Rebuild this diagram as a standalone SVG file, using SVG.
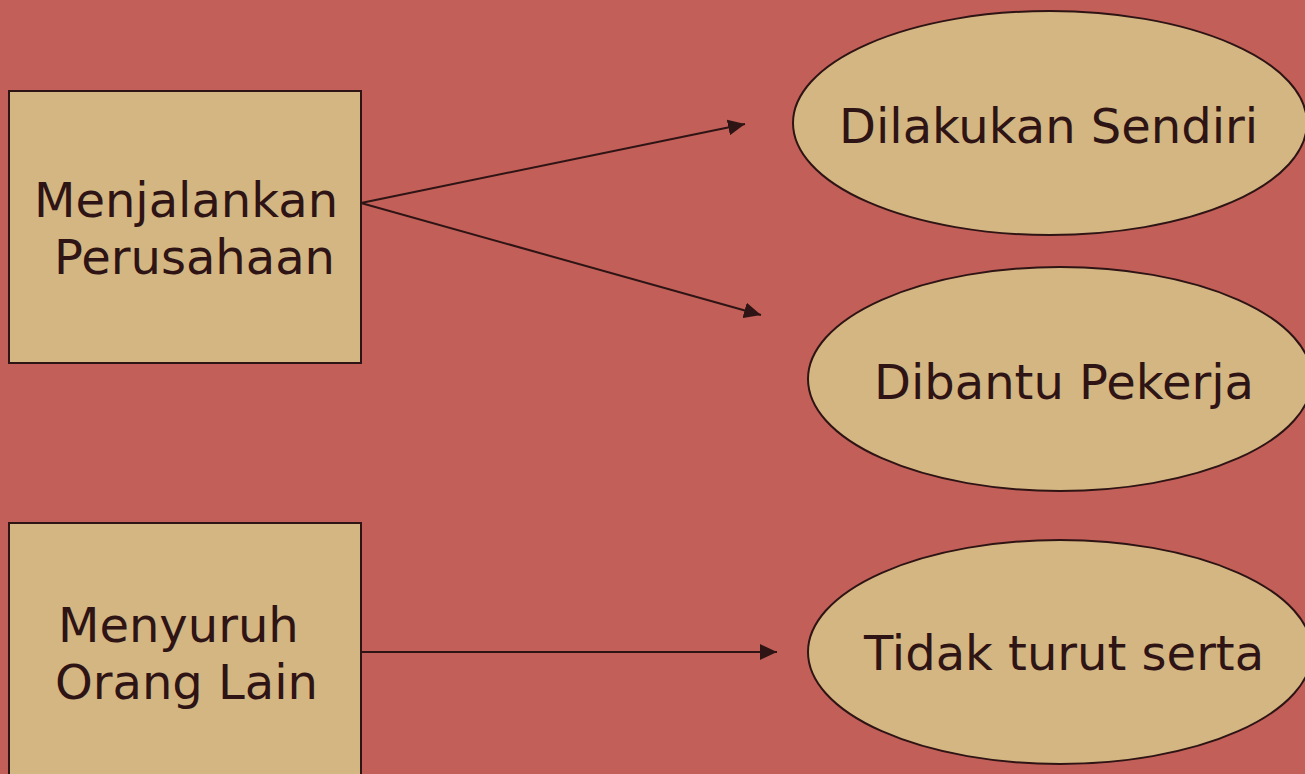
<svg xmlns="http://www.w3.org/2000/svg" width="1305" height="774" viewBox="0 0 1305 774">
<style>
.box{fill:#D4B682;stroke:#2E1414;stroke-width:2}
.lbl{font-family:"DejaVu Sans",Verdana,sans-serif;font-size:48px;fill:#2E1414}
.con{stroke:#2E1414;stroke-width:2;fill:none;marker-end:url(#ah)}
</style>
<defs>
<marker id="ah" markerUnits="userSpaceOnUse" markerWidth="18" markerHeight="16" refX="17" refY="8" orient="auto">
<path d="M0,0 L17,8 L0,16 z" fill="#2E1414"/>
</marker>
</defs>
<rect width="1305" height="774" fill="#C25F58"/>
<g id="n1"><rect class="box" x="9" y="91" width="352" height="272"/>
<text class="lbl" x="34" y="217">Menjalankan</text>
<text class="lbl" x="54" y="274">Perusahaan</text></g>
<g id="n2"><rect class="box" x="9" y="523" width="352" height="270"/>
<text class="lbl" x="58" y="642">Menyuruh</text>
<text class="lbl" x="55" y="699">Orang Lain</text></g>
<g id="e1"><ellipse class="box" cx="1050" cy="123" rx="257" ry="112"/>
<text class="lbl" x="839" y="143">Dilakukan Sendiri</text></g>
<g id="e2"><ellipse class="box" cx="1060" cy="379" rx="252" ry="112"/>
<text class="lbl" x="874" y="399">Dibantu Pekerja</text></g>
<g id="e3"><ellipse class="box" cx="1060" cy="652" rx="252" ry="112"/>
<text class="lbl" x="864" y="670">Tidak turut serta</text></g>
<g id="connectors">
<line class="con" x1="361" y1="203" x2="745" y2="124"/>
<line class="con" x1="361" y1="203" x2="761" y2="315"/>
<line class="con" x1="361" y1="652" x2="777" y2="652"/>
</g>
</svg>
